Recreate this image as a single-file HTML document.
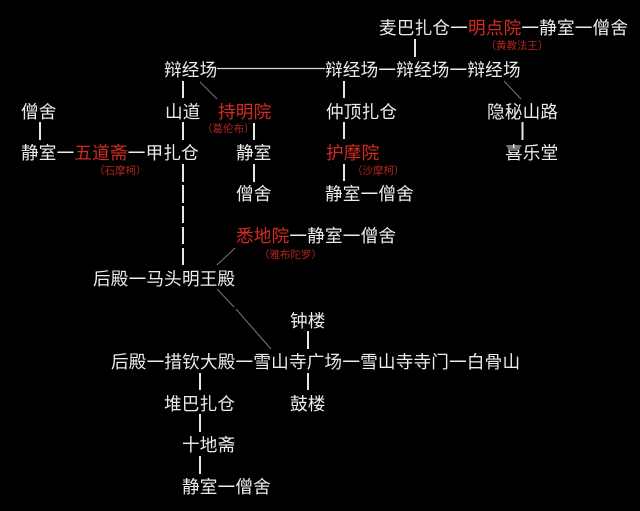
<!DOCTYPE html>
<html><head><meta charset="utf-8">
<style>
html,body{margin:0;padding:0;background:#000;width:640px;height:511px;overflow:hidden}
svg{display:block}
text{font-family:"WenQuanYi Zen Hei","Noto Sans CJK SC",sans-serif;font-size:17.6px;letter-spacing:.2px;fill:#ececec;white-space:pre}
.r{fill:#d42a20}
text.s{font-size:10.5px;letter-spacing:0;fill:#b3261d}
.v{stroke:#e6e6e6;stroke-width:2;fill:none}
.h{stroke:#d8d8d8;stroke-width:1.3;fill:none}
.d{stroke:#777;stroke-width:1;fill:none}
</style></head><body>
<svg width="640" height="511" viewBox="0 0 640 511" xmlns="http://www.w3.org/2000/svg">
<defs><filter id="b" x="-5%" y="-5%" width="110%" height="110%"><feGaussianBlur stdDeviation="0.3"/></filter></defs>
<rect width="640" height="511" fill="#000"/>
<g filter="url(#b)">
<text x="379" y="34">麦巴扎仓一<tspan class="r">明点院</tspan>一静室一僧舍</text>
<text class="s" x="485.5" y="49">（黄教法王）</text>
<text x="164" y="76">辩经场</text>
<text x="325" y="76">辩经场一辩经场一辩经场</text>
<text x="21" y="118">僧舍</text>
<text x="165" y="118">山道</text>
<text class="r" x="218" y="118">持明院</text>
<text x="326" y="118">仲顶扎仓</text>
<text x="487" y="118">隐秘山路</text>
<text class="s" x="202" y="132">（葛伦布）</text>
<text x="21" y="159">静室一<tspan class="r">五道斋</tspan>一甲扎仓</text>
<text x="236" y="159">静室</text>
<text class="r" x="326" y="159">护摩院</text>
<text x="505" y="159">喜乐堂</text>
<text class="s" x="94" y="174">（石摩柯）</text>
<text class="s" x="352" y="174">（沙摩柯）</text>
<text x="236" y="200">僧舍</text>
<text x="325" y="200">静室一僧舍</text>
<text x="236" y="242"><tspan class="r">悉地院</tspan>一静室一僧舍</text>
<text class="s" x="259" y="258">（雅布陀罗）</text>
<text x="93" y="285">后殿一马头明王殿</text>
<text x="290" y="327">钟楼</text>
<text x="111" y="368">后殿一措钦大殿一雪山寺广场一雪山寺寺门一白骨山</text>
<text x="164" y="410">堆巴扎仓</text>
<text x="290" y="410">鼓楼</text>
<text x="182" y="451">十地斋</text>
<text x="182" y="493">静室一僧舍</text>
</g>
<path class="h" d="M217 68.5H325"/>
<path class="v" d="M415 39V57M183 81V98M344 81V98M40 122V140M183 122V140M254 123V140M344 122V139M522.5 122V140M183 164V182M183 185V203M183 206V223M183 227V244M183 248V265M254 164V182M344 164V181M308 331V349M308 373V390M200 373V390M200 414V432M200 456V474"/>
<path class="d" d="M200 82L217 99M504 81L521 99M235 248L217 265M217 289L234 307M236 309L271 349"/>
</svg>
</body></html>
